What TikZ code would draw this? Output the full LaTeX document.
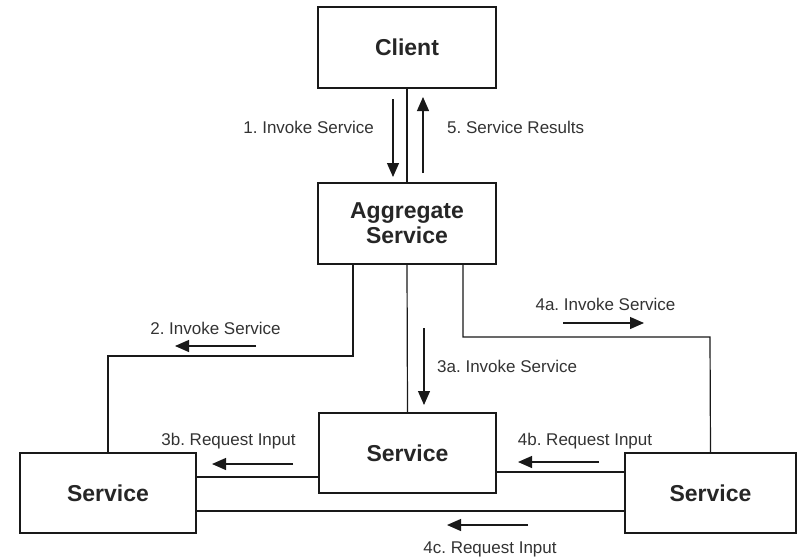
\documentclass[tikz,border=0pt]{standalone}
\usepackage{fontspec}
\setmainfont{Liberation Sans}
\usetikzlibrary{arrows.meta}
\frenchspacing
\begin{document}
\begin{tikzpicture}[x=1pt,y=-1pt,
  box/.style={draw=black!90, line width=1.2pt, inner sep=0pt, align=center,
    font=\fontsize{23}{25}\selectfont\bfseries, text=black!85},
  conn/.style={line width=1.2pt, draw=black!90},
  flow/.style={line width=1.2pt, draw=black!90, -{Triangle[length=14pt,width=12pt]}},
  lab/.style={inner sep=0pt, font=\fontsize{17}{20}\selectfont\frenchspacing, text=black!80}]
\useasboundingbox (0,0) rectangle (798,557);
% boxes
\node[box, minimum width=178pt, minimum height=81pt] (client) at (407,47.5) {Client};
\node[box, minimum width=178pt, minimum height=81pt] (agg) at (407,223.5) {Aggregate\\Service};
\node[box, minimum width=177pt, minimum height=80pt] (svcM) at (407.5,453) {Service};
\node[box, minimum width=176pt, minimum height=80pt] (svcL) at (108,493) {Service};
\node[box, minimum width=171pt, minimum height=80pt] (svcR) at (710.5,493) {Service};
% connectors
\coordinate (c2) at (108,356);
\coordinate (c4) at (710,337);
\draw[conn] (client.south) -- (agg.north);
\draw[conn] (agg.south) -- (svcM.north);
\draw[conn] ([xshift=-54pt]agg.south) |- (c2) -- (svcL.north);
\draw[conn] ([xshift=56pt]agg.south) |- (c4) -- (svcR.north);
\draw[conn] (svcM.west |- 0,477) -- (svcL.east |- 0,477);
\draw[conn] (svcR.west |- 0,472) -- (svcM.east |- 0,472);
\draw[conn] (svcL.east |- 0,511) -- (svcR.west |- 0,511);
% direction arrows
\coordinate (a1s) at (393,99);  \coordinate (a1e) at (393,177);
\coordinate (a5s) at (423,173); \coordinate (a5e) at (423,97);
\coordinate (a2s) at (256,346); \coordinate (a2e) at (175,346);
\coordinate (a3as) at (424,328); \coordinate (a3ae) at (424,405);
\coordinate (a3bs) at (293,464); \coordinate (a3be) at (212,464);
\coordinate (a4as) at (563,323); \coordinate (a4ae) at (644,323);
\coordinate (a4bs) at (599,462); \coordinate (a4be) at (518,462);
\coordinate (a4cs) at (528,525); \coordinate (a4ce) at (447,525);
\draw[flow] (a1s) -- (a1e);
\draw[flow] (a5s) -- (a5e);
\draw[flow] (a2s) -- (a2e);
\draw[flow] (a3as) -- (a3ae);
\draw[flow] (a3bs) -- (a3be);
\draw[flow] (a4as) -- (a4ae);
\draw[flow] (a4bs) -- (a4be);
\draw[flow] (a4cs) -- (a4ce);
% labels
\node[lab, anchor=base east] (l1) at (374,133) {1. Invoke Service};
\node[lab, anchor=base west] (l5) at (447,133) {5. Service Results};
\node[lab, anchor=base] (l2) at (215.5,334) {2. Invoke Service};
\node[lab, anchor=base west] (l3a) at (437,372) {3a. Invoke Service};
\node[lab, anchor=base] (l3b) at (228.5,445) {3b. Request Input};
\node[lab, anchor=base] (l4a) at (605.5,310) {4a. Invoke Service};
\node[lab, anchor=base] (l4b) at (585,445) {4b. Request Input};
\node[lab, anchor=base] (l4c) at (490,553) {4c. Request Input};
\end{tikzpicture}
\end{document}
